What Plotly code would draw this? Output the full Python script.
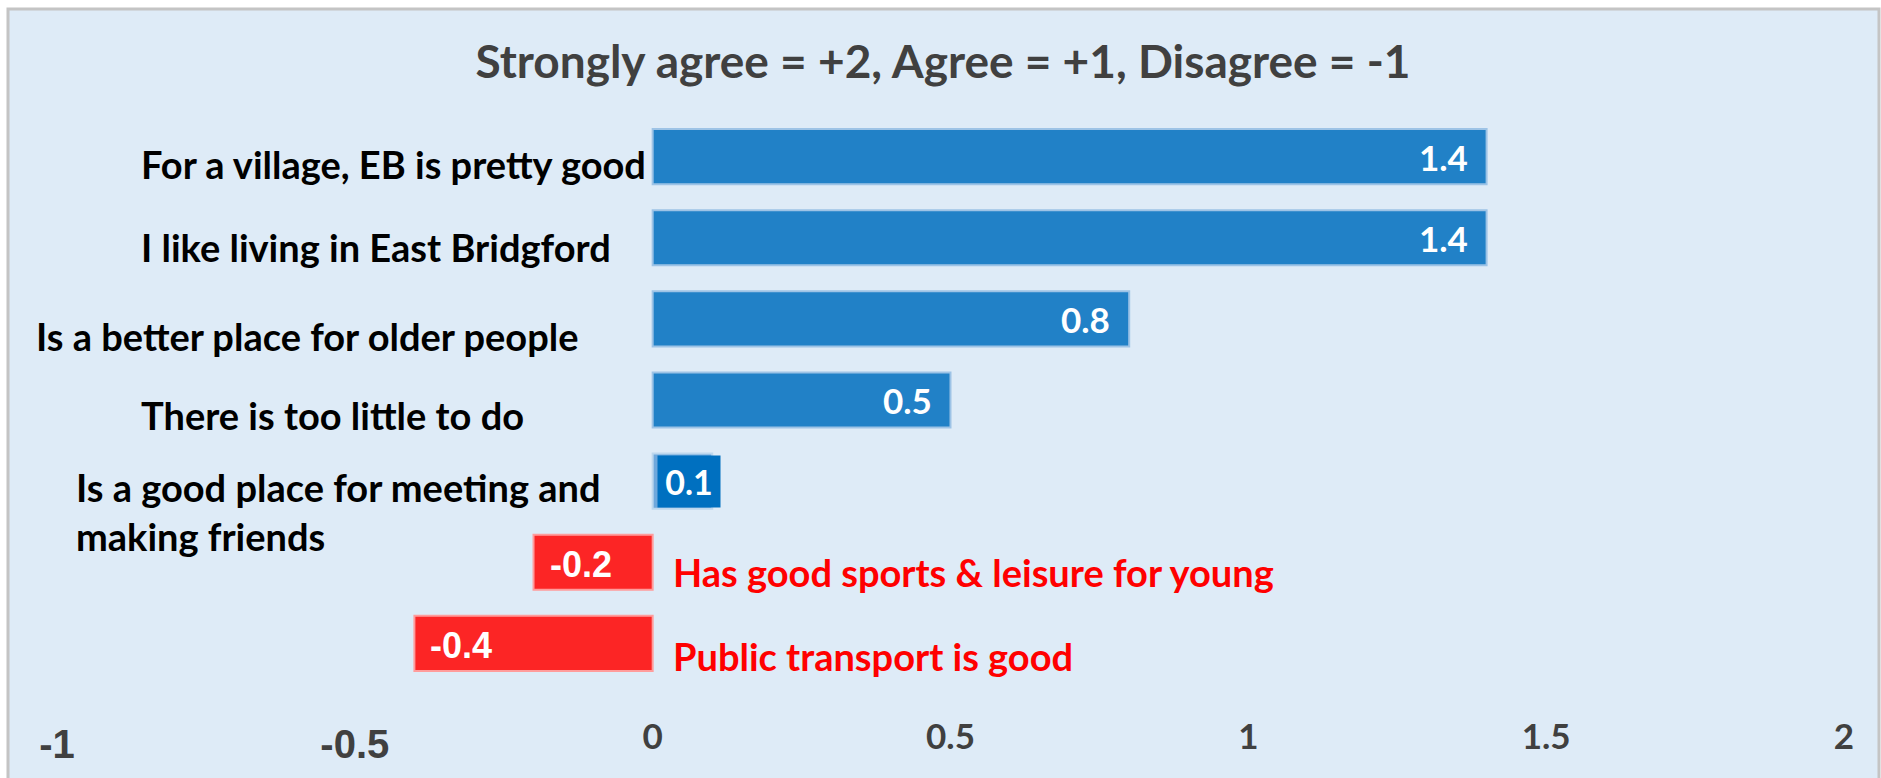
import plotly.graph_objects as go

# ---------------- data ----------------
categories = [
    "For a village, EB is pretty good",
    "I like living in East Bridgford",
    "Is a better place for older people",
    "There is too little to do",
    "Is a good place for meeting and<br>making friends",
    "Has good sports & leisure for young",
    "Public transport is good",
]
values = [1.4, 1.4, 0.8, 0.5, 0.1, -0.2, -0.4]
value_labels = ["1.4", "1.4", "0.8", "0.5", "0.1", "-0.2", "-0.4"]
pos_ticks = [0, 0.5, 1, 1.5, 2]
neg_ticks = [-1, -0.5]
neg_tick_text = ["-1", "-0.5"]
title_text = "Strongly agree = +2, Agree = +1, Disagree = -1"

# ---------------- geometry / style ----------------
W, H = 1881, 778
L, R, T, B = 57, 37, 116, 94
PW, PH = W - L - R, H - T - B

def px_x(px):
    return (px - L) / PW

def px_y(py):
    return (H - B - py) / PH

BLUE = "#2181C7"
BLUE_EDGE = "#9DC3E6"
LIGHT_BLUE = "#6FA8DC"
LIGHT_EDGE = "#BDD7EE"
RED = "#FC2525"
RED_EDGE = "#FF9C9C"

fill_colors = []
edge_colors = []
for i, v in enumerate(values):
    if v < 0:
        fill_colors.append(RED)
        edge_colors.append(RED_EDGE)
    elif value_labels[i] == "0.1":
        fill_colors.append(LIGHT_BLUE)
        edge_colors.append(LIGHT_EDGE)
    else:
        fill_colors.append(BLUE)
        edge_colors.append(BLUE_EDGE)

fig = go.Figure()
fig.add_trace(go.Bar(
    x=values, y=categories, orientation="h",
    marker=dict(color=fill_colors, line=dict(color=edge_colors, width=2)),
    hoverinfo="skip", showlegend=False,
))
# helper trace for the secondary tick axis
fig.add_trace(go.Scatter(x=[None], y=[categories[0]], xaxis="x2", yaxis="y",
                         mode="markers", hoverinfo="skip", showlegend=False))

annotations = []

# value labels
for cat, v, lab in zip(categories, values, value_labels):
    if v < 0:
        annotations.append(dict(
            x=v, y=cat, xref="x", yref="y", text=lab, showarrow=False,
            xanchor="left", xshift=14, yshift=-2,
            font=dict(family="Liberation Sans", size=36, color="white", weight="bold"),
        ))
    elif lab == "0.1":
        annotations.append(dict(
            x=v, y=cat, xref="x", yref="y", text=lab, showarrow=False,
            xanchor="right", xshift=9, width=62, height=51, borderpad=0,
            bgcolor="#0070C0",
            font=dict(family="Lato", size=34, color="white", weight="bold"),
        ))
    else:
        annotations.append(dict(
            x=v, y=cat, xref="x", yref="y", text=lab, showarrow=False,
            xanchor="right", xshift=-17,
            font=dict(family="Lato", size=35, color="white", weight="bold"),
        ))

# category labels (placement styles)
label_style = [
    dict(xpx=139, yshift=-7, color="black"),
    dict(xpx=139, yshift=-9, color="black"),
    dict(xpx=34, yshift=-17, color="black"),
    dict(xpx=139, yshift=-15, color="black"),
    dict(xpx=74, yshift=-30, color="black"),
    dict(xpx=671, yshift=-10, color="#FF0000"),
    dict(xpx=671, yshift=-13, color="#FF0000"),
]
for cat, st in zip(categories, label_style):
    annotations.append(dict(
        x=px_x(st["xpx"]), y=cat, xref="paper", yref="y",
        text=cat, showarrow=False, xanchor="left", align="left",
        yshift=st["yshift"],
        font=dict(family="Lato", size=38, color=st["color"], weight="bold"),
    ))

fig.update_layout(
    width=W, height=H,
    margin=dict(l=L, r=R, t=T, b=B),
    paper_bgcolor="white",
    plot_bgcolor="rgba(0,0,0,0)",
    bargap=0.32,
    title=dict(text=title_text, x=943 / W, xref="container", xanchor="center",
               y=1 - 62 / H, yref="container", yanchor="middle",
               font=dict(family="Lato", size=46, color="#404040", weight="bold")),
    xaxis=dict(range=[-1, 2], tickvals=pos_ticks, showgrid=False, zeroline=False,
               showline=False, ticks="", ticklabelstandoff=29,
               tickfont=dict(family="Lato", size=35, color="#404040", weight="bold")),
    xaxis2=dict(overlaying="x", matches="x", anchor="y", side="bottom",
                tickvals=neg_ticks, ticktext=neg_tick_text,
                showgrid=False, zeroline=False, showline=False, ticks="",
                ticklabelstandoff=33,
                tickfont=dict(family="Liberation Sans", size=40, color="#404040", weight="bold")),
    yaxis=dict(categoryorder="array", categoryarray=categories, range=[6.5, -0.5],
               showticklabels=False, showgrid=False, zeroline=False, showline=False),
    annotations=annotations,
    shapes=[dict(type="rect", xref="paper", yref="paper",
                 x0=px_x(8), x1=px_x(1879), y0=px_y(800), y1=px_y(9),
                 fillcolor="#DEEBF7", line=dict(color="#C4C4C4", width=3),
                 layer="below")],
)

fig.write_html("out.html",
               config={"displayModeBar": False},
               post_script="document.body.style.margin='0';document.body.style.overflow='hidden';")
